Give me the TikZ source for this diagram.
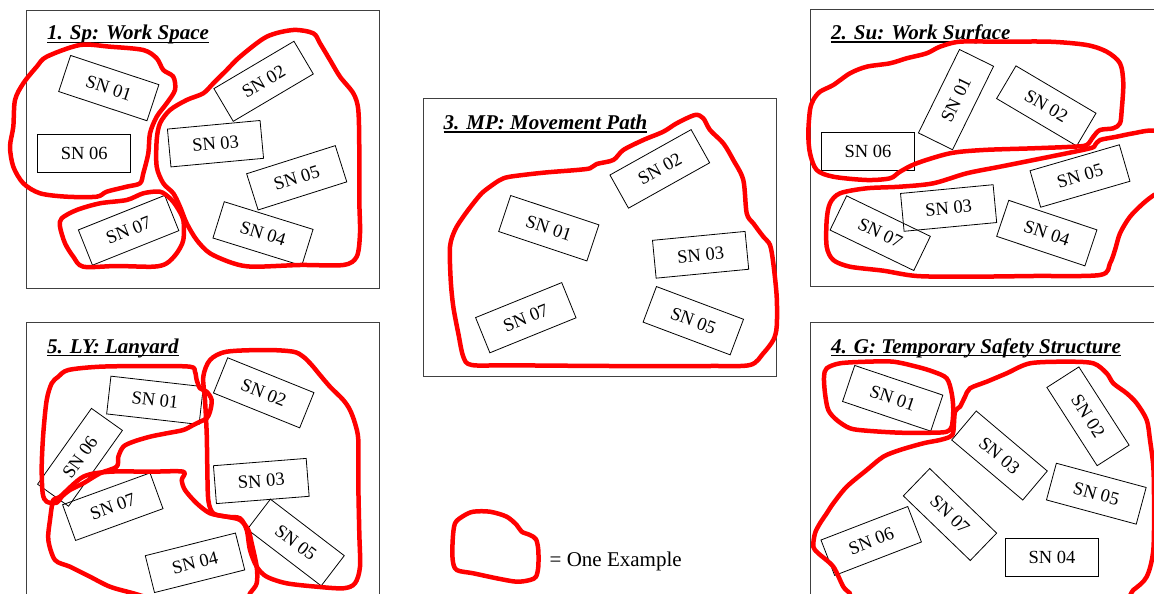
\documentclass[tikz,border=0pt]{standalone}
\usepackage{fontspec}
\setmainfont{Liberation Serif}

\tikzset{
  sn/.style={draw, line width=0.8pt, minimum width=93pt, minimum height=38pt, inner sep=0pt, font=\fontsize{18.5}{20}\selectfont},
  panel/.style={draw=black!75, line width=1pt},
  ptitle/.style={anchor=base west, inner sep=0pt, font=\fontsize{21}{24}\selectfont\bfseries\itshape},
  hull/.style={draw=red, line width=4.5pt, line join=round},
}

\begin{document}
\begin{tikzpicture}[x=1pt,y=-1pt]
\useasboundingbox (0,0) rectangle (1154,594);
% panel frames
\draw[panel] (26,11) rectangle (379,288);
\draw[panel] (423.5,98) rectangle (776,376);
\draw[panel] (810,9.5) rectangle (1160,286.5);
\draw[panel] (26.5,322) rectangle (379.5,600);
\draw[panel] (810,322) rectangle (1160,600);
% titles
\node[ptitle] (t1) at (47,40) {1. Sp: Work Space};
\node[ptitle] (t2) at (831,39.5) {2. Su: Work Surface};
\node[ptitle] (t3) at (443.5,129.5) {3. MP: Movement Path};
\node[ptitle] (t4) at (831,353) {4. G: Temporary Safety Structure};
\node[ptitle] (t5) at (47,353) {5. LY: Lanyard};
\foreach \t in {t1,t2,t3,t4,t5}
  \draw[line width=1.2pt] ([yshift=-2.5pt]\t.base west) -- ([yshift=-2.5pt]\t.base east);
% sensor boxes, x/y/angle/number
\foreach \x/\y/\r/\l in {108.8/88.1/-18.3/01, 263.6/81.3/30.6/02, 215.5/143.7/5.3/03, 263/233.7/-17.3/04,
    296.7/177.8/17.6/05, 84.3/153.3/0/06, 128.6/230.3/21.8/07}
  \node[sn, rotate=\r] (sp\l) at (\x,\y) {SN \l};
\foreach \x/\y/\r/\l in {956/99.6/63.8/01, 1046.3/105.9/-30.6/02, 948.6/208/5.4/03, 1046.8/233.1/-18.5/04,
    1080/176/16.2/05, 868/151.3/0/06, 880.2/233.2/-25.8/07}
  \node[sn, rotate=\r] (su\l) at (\x,\y) {SN \l};
\foreach \x/\y/\r/\l in {548.8/228.2/-18.4/01, 659.8/168.9/29.2/02, 700.6/254.8/5.5/03,
    693.3/320.7/-20.6/05, 525.8/317.7/22.1/07}
  \node[sn, rotate=\r] (mp\l) at (\x,\y) {SN \l};
\foreach \x/\y/\r/\l in {892.7/398.3/-18.6/01, 1088/416.3/-57.3/02, 999.5/455.5/-40.2/03, 1052/557.8/0/04,
    1096.3/493.7/-15.1/05, 871.2/541/21.1/06, 950/514.5/-44/07}
  \node[sn, rotate=\r] (g\l) at (\x,\y) {SN \l};
\foreach \x/\y/\r/\l in {155/400.3/-6.5/01, 263.7/392.8/-22/02, 261.3/481/4.5/03, 195/562.8/14.1/04,
    295.8/542.5/-37.4/05, 80/457.3/54.6/06, 112.8/506.7/20/07}
  \node[sn, rotate=\r] (ly\l) at (\x,\y) {SN \l};
% groupings
\draw[hull] plot[smooth cycle] coordinates {(46.7,56.7) (80,45) (110,46.7) (143.3,50) (156.7,58.3) (163.3,70)
  (173.3,76.7) (175,90) (166.7,103.3) (156.7,116.7) (150,133.3) (148.3,153.3) (143.3,173.3) (140,183.3)
  (126.7,186.7) (106.7,191.7) (96.7,196.7) (66.7,196.7) (40,193.3) (23.3,183.3) (13.3,166.7) (10,146.7)
  (13.3,126.7) (15,100) (23.3,83.3) (36.7,66.7)};
\draw[hull] plot[smooth cycle] coordinates {(156.7,166.7) (156.7,140) (160,123.3) (170,110) (186.7,100)
  (203.3,93.3) (213.3,83.3) (226.7,70) (240,56.7) (266.7,36.7) (293.3,30) (313.3,33.3) (320,43.3) (330,60)
  (340,76.7) (353.3,93.3) (358.3,110) (359.3,150) (359.3,200) (360,233.3) (356.7,256.7) (343.3,265)
  (300,265) (253.3,266.7) (233.3,263.3) (210,253.3) (196.7,240) (186.7,223.3) (180,206.7) (173.3,193.3)
  (163.3,183.3)};
\draw[hull] plot[smooth cycle] coordinates {(61.7,218.3) (76.7,210) (100,203.3) (126.7,200) (143.3,193.3)
  (160,191.7) (170,198.3) (176.7,206.7) (183.3,220) (183.3,240) (176.7,253.3) (166.7,263.3) (153.3,266.7)
  (116.7,266) (83.3,266.7) (73.3,256.7) (65,243.3) (60,226.7)};
\draw[hull] plot[smooth cycle] coordinates {(463.3,356.7) (458.3,333.3) (453.3,306.7) (450.7,280) (450,246.7)
  (455,230) (463.3,216.7) (473.3,203.3) (481.7,193.3) (490,186.7) (500,180) (510,176.7) (543.3,172.7)
  (576.7,170) (590,168.3) (596.7,164) (613.3,160) (623.3,150) (643.3,140) (663.3,131.7) (676.7,123.3)
  (695,115) (703.3,118.3) (710,130) (723.3,143.3) (733.3,160) (743.3,180) (746.7,213.3) (753.3,223.3)
  (763.3,236.7) (770,245) (773.3,263.3) (776.7,296.7) (776.7,326.7) (773.3,340) (763.3,353.3) (750,365)
  (710,366) (610,366) (510,365.3) (471.7,365)};
\draw[hull] plot[smooth cycle] coordinates {(813.3,100) (820,91.7) (833.3,85) (850,73.3) (866.7,66.7)
  (890,63.3) (906.7,58.3) (926.7,53.3) (940,46.7) (960,41.7) (1000,41.7) (1050,41.7) (1086.7,45)
  (1106.7,51.7) (1120,63.3) (1123.3,83.3) (1121.7,110) (1120,123.3) (1113.3,128.3) (1100,130)
  (1093.3,136.7) (1086.7,145) (1073.3,146.7) (1033.3,148.3) (983.3,150) (950,153.3) (916.7,163.3)
  (900,171.7) (890,178.3) (866.7,180) (833.3,176.7) (816.7,170) (810,153.3) (808.3,133.3) (810,110)};
\draw[hull] plot[smooth cycle] coordinates {(1154,130.7) (1133.3,133.3) (1116.7,136.7) (1100,140) (1095,145)
  (1090,148.3) (1050,156.7) (1000,166.7) (966.7,173.3) (933.3,183.3) (900,186.7) (866.7,188.3) (840,193.3)
  (830,203.3) (826.7,220) (826.7,246.7) (833.3,260) (850,266.7) (883.3,270.7) (916.7,276) (966.7,276.7)
  (1033.3,276) (1100,275) (1110,263.3) (1115,250) (1120,233.3) (1130,216.7) (1143.3,203.3) (1154,195)
  (1170,185) (1175,140)};
\draw[hull] plot[smooth cycle] coordinates {(826.7,368.3) (840,363.3) (866.7,361.7) (893.3,361.7)
  (916.7,366.7) (933.3,371.7) (946.7,378.3) (951.7,393.3) (953.3,410) (951.7,426.7) (946.7,431.7)
  (933.3,432.7) (900,432.7) (866.7,430.7) (850,428.3) (836.7,420) (828.3,410) (825,393.3) (824,376.7)};
\draw[hull] plot[smooth cycle] coordinates {(955,411.7) (960,406.7) (965,396.7) (970,388.3) (986.7,381.7)
  (1006.7,373.3) (1030,363.3) (1066.7,361.7) (1093.3,363.3) (1106.7,373.3) (1113.3,383.3) (1126.7,393.3)
  (1136.7,403.3) (1146.7,420) (1150,440) (1153.3,466.7) (1154,500) (1153.3,550) (1146.7,576.7)
  (1133.3,590) (1116.7,600) (1000,612) (860,605) (850,593.3) (843.3,586.7) (833.3,566.7) (818.3,553.3)
  (813.3,546.7) (815,533.3) (820,523.3) (826.7,513.3) (833.3,503.3) (846.7,486.7) (866.7,470)
  (883.3,456.7) (900,450) (923.3,443.3) (940,440) (950,436.7) (953.3,431.7)};
\draw[hull] plot[smooth cycle] coordinates {(68.3,370) (100,366.7) (150,366) (190,366.7) (195,371.7)
  (196.7,380) (200,388.3) (206.7,391.7) (211.7,400) (210,411.7) (206.7,418.3) (200,421.7) (193.3,425)
  (183.3,430) (166.7,433.3) (150,436.7) (133.3,441.7) (123.3,446.7) (118.3,456.7) (116.7,466.7) (100,473.3)
  (83.3,483.3) (70,490) (61.7,496.7) (56.7,502.7) (46.7,501.7) (42.7,493.3) (41.7,466.7) (43.3,433.3)
  (46.7,400) (51.7,383.3) (58.3,376.7)};
\draw[hull] plot[smooth cycle] coordinates {(210,360) (226.7,351.7) (266.7,350) (293.3,351.7) (303.3,356.7)
  (311.7,365) (320,375) (330,386.7) (343.3,400) (350,410) (355,423.3) (358.3,440) (358.3,483.3)
  (359.3,533.3) (360,566.7) (355,583.3) (343.3,588.3) (316.7,586.7) (286.7,583.3) (266.7,576.7)
  (256.7,566.7) (250,550) (246.7,530) (240,518.3) (226.7,516.7) (213.3,513.3) (208.3,500) (207.3,466.7)
  (206.7,433.3) (205,400) (203.3,376.7)};
\draw[hull] plot[smooth cycle] coordinates {(60,496.7) (83.3,476.7) (110,471.7) (150,471.7) (183.3,471.7)
  (181.7,480) (185,490) (196.7,503.3) (210,513.3) (226.7,516.7) (240,520) (248.3,530) (251.7,543.3)
  (256.7,566.7) (256.7,583.3) (250,593.3) (240,608) (180,606) (133.3,593.3) (110,586.7) (90,576.7)
  (70,566.7) (55,560) (48.3,540) (50,520) (53.3,500)};
% legend
\draw[hull] plot[smooth cycle] coordinates {(455,523.3) (463.3,516) (473.3,511.7) (490,511.7) (506.7,516.7)
  (516.7,525) (521.7,531.7) (530,535) (536,539.3) (538.3,550) (538.3,566.7) (536,576.7) (530,580)
  (516.7,581.7) (496.7,578.3) (473.3,573.3) (456.7,570) (452.7,560) (452.7,540)};
\node[anchor=base west, inner sep=0pt, font=\fontsize{21}{24}\selectfont] (key) at (549.5,566) {= One Example};
\end{tikzpicture}
\end{document}
